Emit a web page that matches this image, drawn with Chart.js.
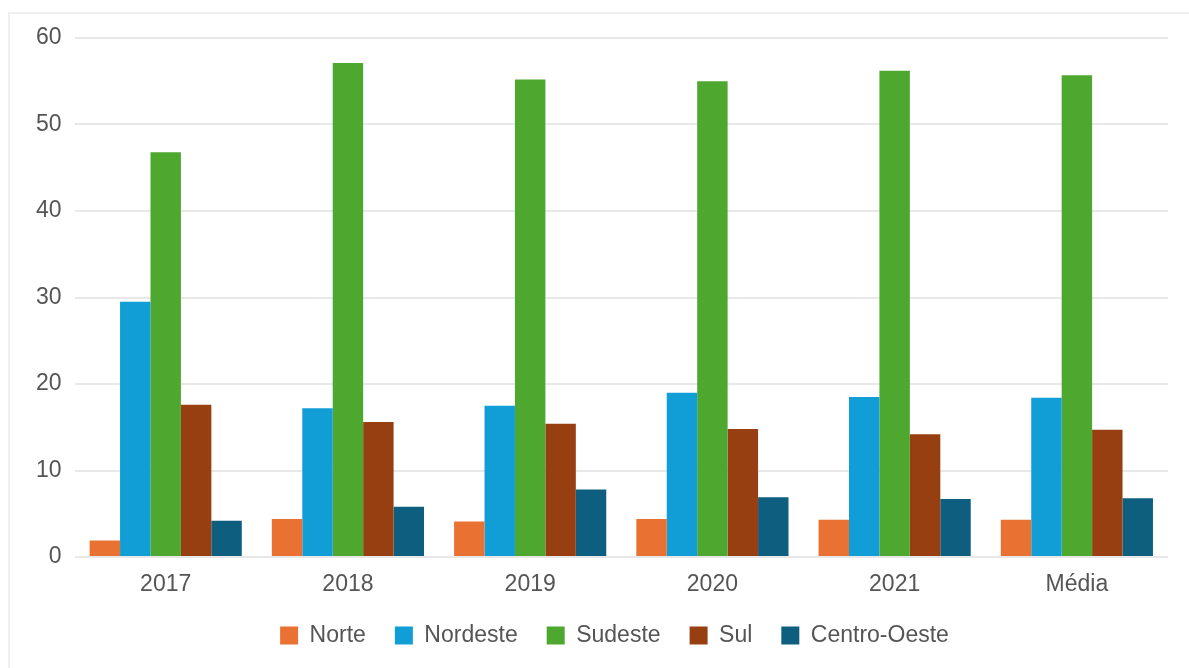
<!DOCTYPE html>
<html>
<head>
<meta charset="utf-8">
<script src="https://cdn.jsdelivr.net/npm/chart.js@4"></script>
<style>
  html, body { margin: 0; padding: 0; background: #fff; }
  #frame {
    position: absolute; left: 8px; top: 12px; width: 1181px; height: 656px;
    border-top: 2px solid #efefef; border-left: 2px solid #efefef;
  }
  #wrap { position: absolute; left: 0; top: 0; width: 1189px; height: 668px; }
</style>
</head>
<body>
<div id="frame"></div>
<div id="wrap"><canvas id="chart"></canvas></div>
<script>
const categories = ['2017', '2018', '2019', '2020', '2021', 'Média'];
const norte = [1.9, 4.4, 4.1, 4.4, 4.3, 4.3];
const nordeste = [29.5, 17.2, 17.5, 19.0, 18.5, 18.4];
const sudeste = [46.8, 57.1, 55.2, 55.0, 56.2, 55.7];
const sul = [17.6, 15.6, 15.4, 14.8, 14.2, 14.7];
const centroOeste = [4.2, 5.8, 7.8, 6.9, 6.7, 6.8];
const yTicks = [0, 10, 20, 30, 40, 50, 60];

const font = { family: '"Liberation Sans", Arial, sans-serif', size: 23 };
const textColor = '#555';

// legend sits a little right of the plot centre in the original
const legendShift = {
    id: 'legendShift',
    afterLayout: chart => {
        chart.legend.left += 19;
        chart.legend.right += 19;
    }
};

const ctx = document.getElementById('chart').getContext('2d');
new Chart(ctx, {
    type: 'bar',
    data: {
        labels: categories,
        datasets: [
            { label: 'Norte', data: norte, backgroundColor: '#E97132' },
            { label: 'Nordeste', data: nordeste, backgroundColor: '#119ED6' },
            { label: 'Sudeste', data: sudeste, backgroundColor: '#4EA72E' },
            { label: 'Sul', data: sul, backgroundColor: '#973F10' },
            { label: 'Centro-Oeste', data: centroOeste, backgroundColor: '#0E5E80' }
        ]
    },
    options: {
        responsive: true,
        maintainAspectRatio: false,
        animation: false,
        datasets: {
            bar: { categoryPercentage: 0.835, barPercentage: 1.0, borderWidth: 0 }
        },
        layout: { padding: { left: 23, right: 21, top: 38, bottom: 11 } },
        plugins: {
            legend: {
                position: 'bottom',
                labels: {
                    font: font,
                    color: textColor,
                    boxWidth: 18,
                    boxHeight: 18,
                    padding: 29
                }
            },
            tooltip: { enabled: false }
        },
        scales: {
            x: {
                grid: { display: false, drawTicks: false },
                border: { display: false },
                ticks: { font: font, color: textColor, padding: 14 },
                // keep the axis band short so the legend sits close below the labels
                afterFit: axis => { axis.height = 38; }
            },
            y: {
                min: 0,
                max: 60,
                afterBuildTicks: axis => { axis.ticks = yTicks.map(v => ({ value: v })); },
                grid: { color: '#e8e8e8', lineWidth: 2, drawTicks: false },
                border: { display: false },
                ticks: { font: font, color: textColor, padding: 13 }
            }
        }
    },
    plugins: [legendShift]
});
</script>
</body>
</html>
